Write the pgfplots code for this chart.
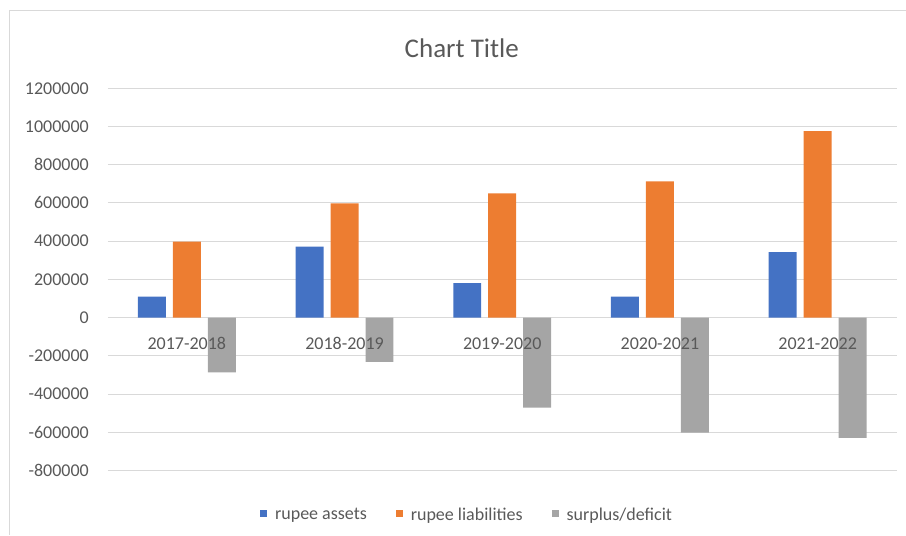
\documentclass[border=0pt]{standalone}
\usepackage{pgfplots}
\pgfplotsset{compat=1.18}
\usepackage{fontspec}
\setmainfont{Carlito}
\definecolor{cblue}{HTML}{4472C4}
\definecolor{corange}{HTML}{ED7D31}
\definecolor{cgray}{HTML}{A5A5A5}
\definecolor{ctext}{HTML}{595959}
\definecolor{cgrid}{HTML}{D9D9D9}
\pgfplotsset{
  layers/labelsontop/.define layer set={axis background,axis grid,axis ticks,axis lines,pre main,main,axis tick labels,axis descriptions,axis foreground}{/pgfplots/layers/standard}
}
\begin{document}
\begin{tikzpicture}[x=1pt,y=1pt]
\path (0,0) rectangle (906,535);
\draw[cgrid, line width=1pt] (10,0) -- (10,524) -- (906,524);
\node[text=ctext, font=\fontsize{27}{32}\selectfont] at (462,487) {Chart Title};
\begin{axis}[
  set layers=labelsontop,
  at={(108pt,64.3pt)}, anchor=south west,
  scale only axis, width=789pt, height=382.4pt,
  xmin=-0.5, xmax=4.5,
  ymin=-800000, ymax=1200000,
  ytick={-800000,-600000,...,1200000},
  xtick={0,1,2,3,4},
  xticklabels={2017-2018,2018-2019,2019-2020,2020-2021,2021-2022},
  axis x line=middle, axis y line=left,
  x axis line style={draw=none}, y axis line style={draw=none},
  major tick length=0pt,
  ymajorgrids, grid style={cgrid, line width=1pt},
  /pgf/number format/.cd, fixed, 1000 sep={}, assume math mode=true, /pgfplots/.cd,
  scaled y ticks=false,
  tick label style={text=ctext, font=\fontsize{18}{22}\selectfont},
  yticklabel style={anchor=east, inner sep=0pt, xshift=-19pt},
  xticklabel style={anchor=base, inner sep=0pt, yshift=-31.6pt},
  ybar=7pt, bar width=28pt,
  legend columns=3,
  legend style={draw=none, fill=none, at={(0.1889,-0.1158)}, anchor=west,
    font=\fontsize{18}{22}\selectfont, text=ctext,
    /tikz/every odd column/.append style={column sep=6pt},
    /tikz/every even column/.append style={column sep=27pt}},
  legend image code/.code={\fill[#1] (0pt,-2pt) rectangle (7pt,5pt);},
]
\addplot[fill=cblue, draw=none] coordinates {(0,110000) (1,371000) (2,180000) (3,110000) (4,342000)};
\addplot[fill=corange, draw=none] coordinates {(0,397000) (1,598000) (2,650000) (3,713000) (4,975000)};
\addplot[fill=cgray, draw=none] coordinates {(0,-287000) (1,-232000) (2,-471000) (3,-602000) (4,-630000)};
\legend{rupee assets, rupee liabilities, surplus/deficit}
\end{axis}
\end{tikzpicture}
\end{document}
